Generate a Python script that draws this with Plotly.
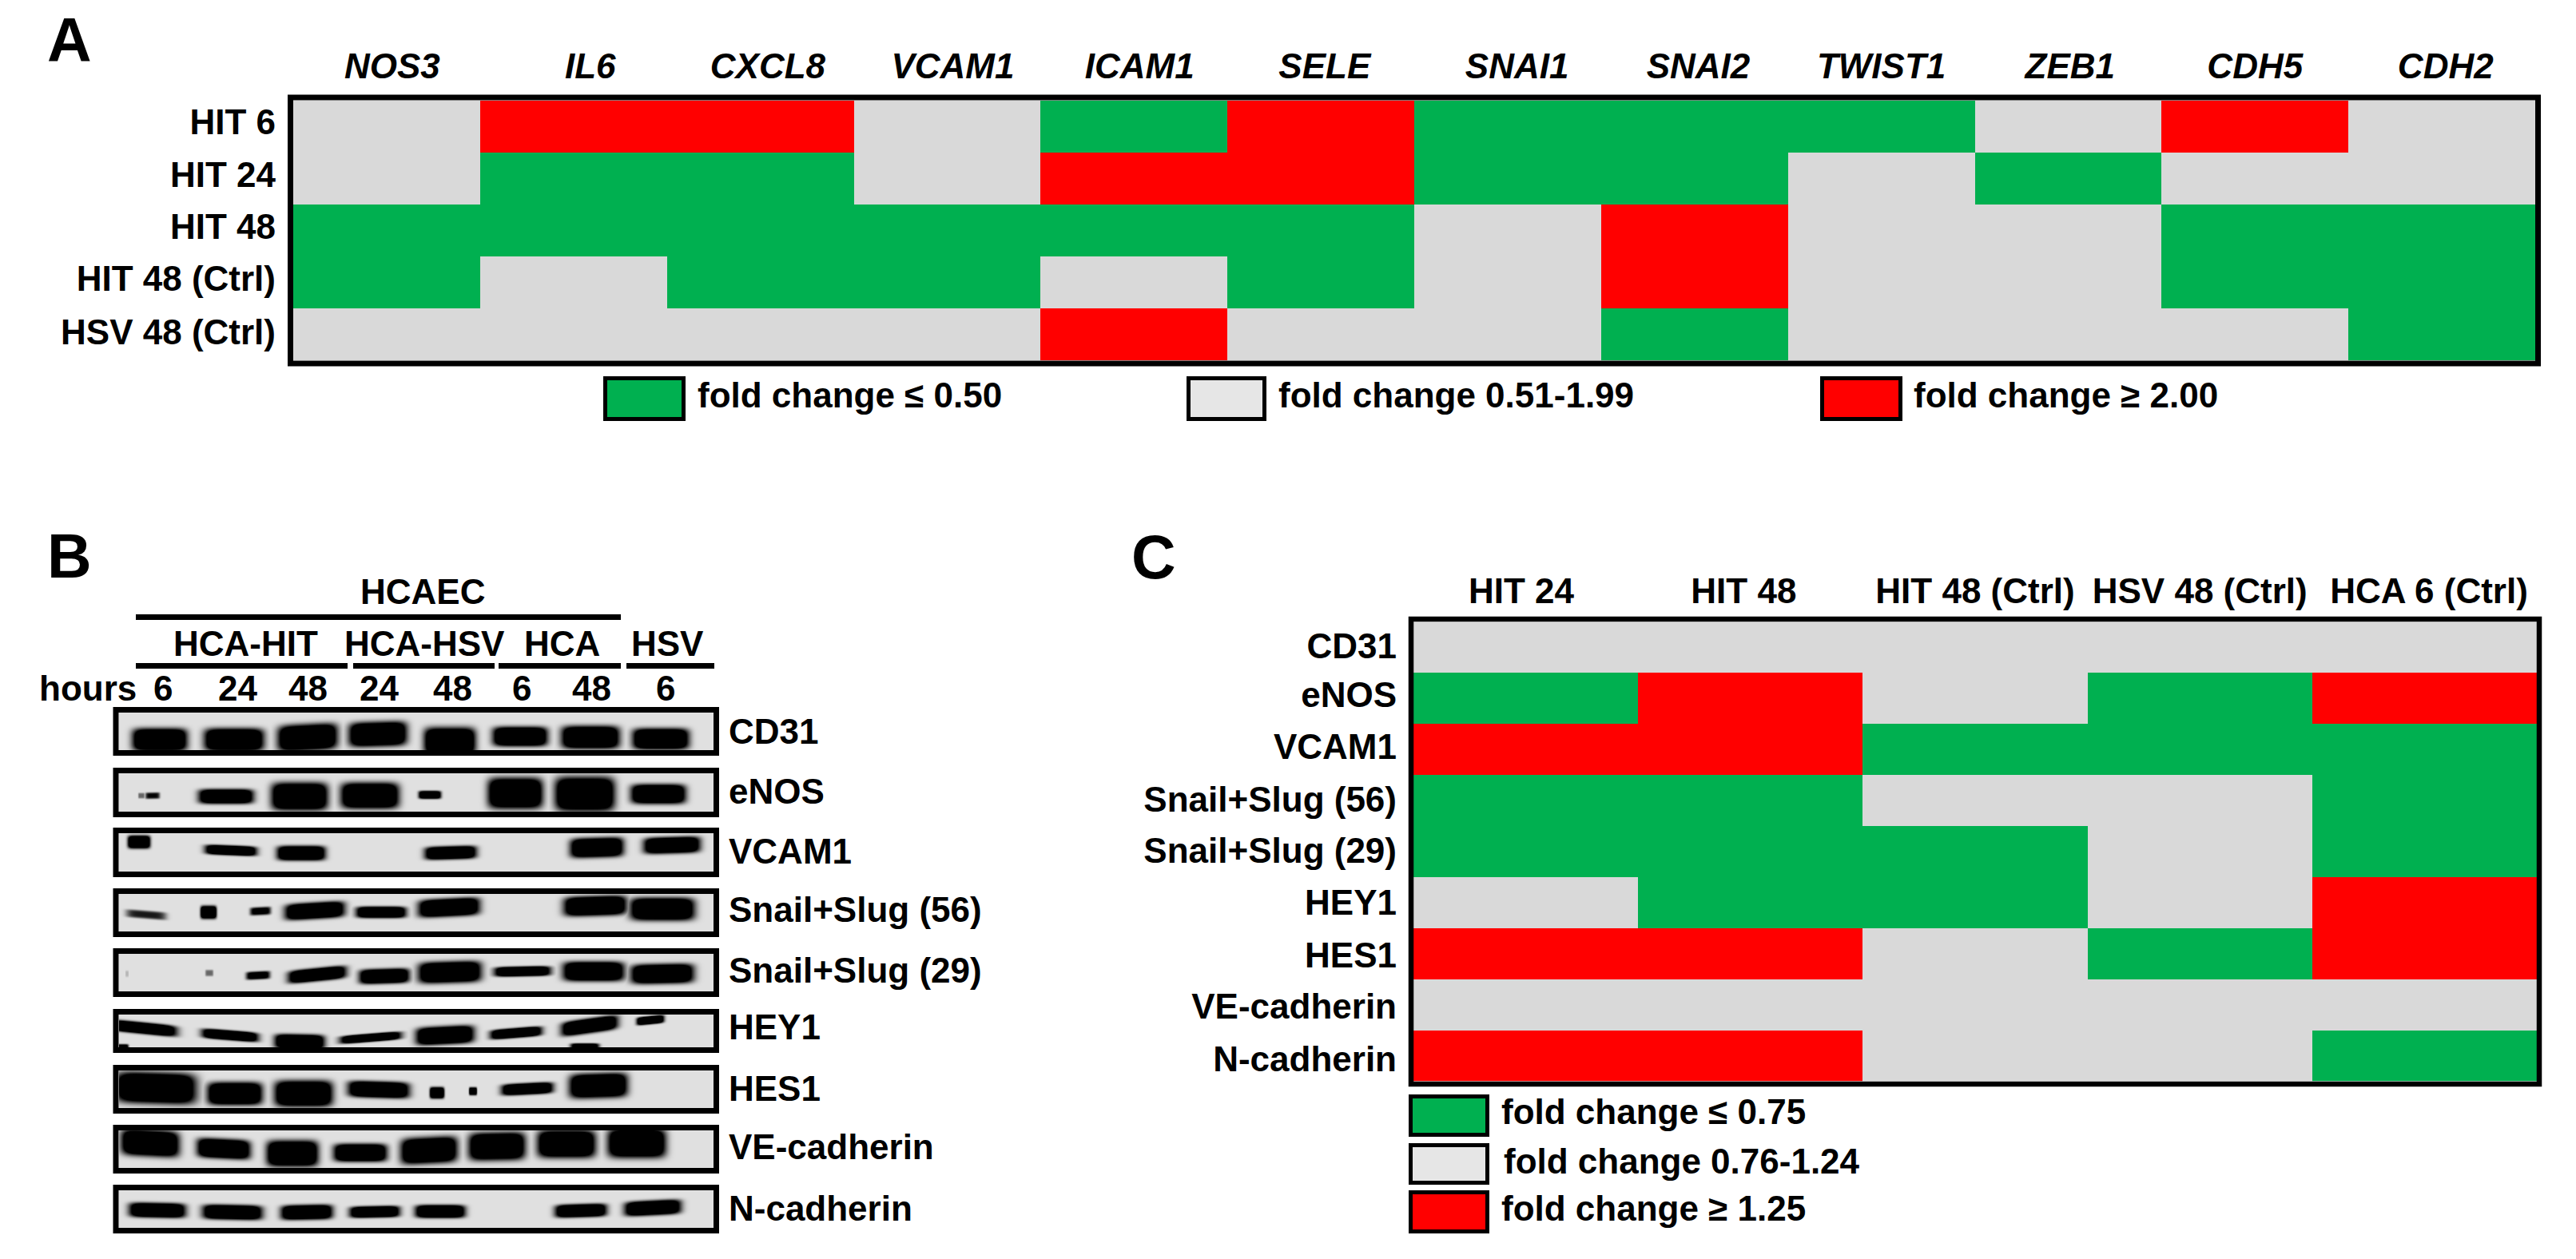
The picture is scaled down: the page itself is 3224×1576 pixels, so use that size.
import numpy as np
import plotly.graph_objects as go

W, H = 3224, 1576
FONT = "Liberation Sans"
GREEN, GREY, RED = "#00B050", "#D9D9D9", "#FF0000"
SWATCH_GREY = "#E6E6E6"
GEL_BG = "#E0E0E0"

# Panel A: -1 = down, 0 = no change, 1 = up
genes = ["NOS3", "IL6", "CXCL8", "VCAM1", "ICAM1", "SELE", "SNAI1", "SNAI2", "TWIST1", "ZEB1", "CDH5", "CDH2"]
rows_a = ["HIT 6", "HIT 24", "HIT 48", "HIT 48 (Ctrl)", "HSV 48 (Ctrl)"]
hit6 = [0, 1, 1, 0, -1, 1, -1, -1, -1, 0, 1, 0]
hit24 = [0, -1, -1, 0, 1, 1, -1, -1, 0, -1, 0, 0]
hit48 = [-1, -1, -1, -1, -1, -1, 0, 1, 0, 0, -1, -1]
hit48_ctrl = [-1, 0, -1, -1, 0, -1, 0, 1, 0, 0, -1, -1]
hsv48_ctrl = [0, 0, 0, 0, 1, 0, 0, -1, 0, 0, 0, -1]
legend_a = ["fold change ≤ 0.50", "fold change 0.51-1.99", "fold change ≥ 2.00"]

# Panel C
cols_c = ["HIT 24", "HIT 48", "HIT 48 (Ctrl)", "HSV 48 (Ctrl)", "HCA 6 (Ctrl)"]
rows_c = ["CD31", "eNOS", "VCAM1", "Snail+Slug (56)", "Snail+Slug (29)", "HEY1", "HES1", "VE-cadherin", "N-cadherin"]
cd31_c = [0, 0, 0, 0, 0]
enos_c = [-1, 1, 0, -1, 1]
vcam1_c = [1, 1, -1, -1, -1]
snail56_c = [-1, -1, 0, 0, -1]
snail29_c = [-1, -1, -1, 0, -1]
hey1_c = [0, -1, -1, 0, 1]
hes1_c = [1, 1, 0, -1, 1]
vecad_c = [0, 0, 0, 0, 0]
ncad_c = [1, 1, 0, 0, -1]
legend_c = ["fold change ≤ 0.75", "fold change 0.76-1.24", "fold change ≥ 1.25"]

# Panel B: bands (x, half width, y, half height, tilt, strength)
cd31_bands = [(51, 34, 34, 13, 0, 1), (144, 37, 34, 13, 0, 1), (236, 37, 31, 15, -.05, 1), (324, 36, 27, 14, -.03, 1),
              (414, 32, 36, 16, 0, 1), (502, 34, 30, 11, 0, 1), (590, 36, 31, 13, 0, 1), (678, 35, 33, 12, 0, 1)]
enos_bands = [(28, 4, 28, 2.5, 0, .3), (42, 9, 28, 3, -.02, .55), (134, 34, 29, 8, 0, 1), (226, 35, 29, 16, 0, 1), (314, 36, 28, 15, 0, 1),
              (389, 14, 27, 4, 0, .9), (496, 34, 25, 18, 0, 1), (583, 37, 26, 20, 0, 1), (675, 34, 26, 11, 0, 1)]
vcam1_bands = [(25, 14, 11, 7, 0, 1), (140, 32, 21.5, 5, .04, 1), (228, 30, 25, 8, 0, 1), (415, 32, 24.5, 7, -.03, 1),
               (598, 33, 18, 11, -.03, 1), (692, 35, 15, 9, -.03, 1)]
snail56_bands = [(34, 25, 26, 4, .08, .5), (112, 10, 23, 7, 0, 1), (177, 13, 21.5, 4, -.05, .65), (245, 37, 21, 9, -.06, 1),
                 (328, 31, 23, 6, 0, 1), (413, 38, 17, 10, -.05, 1), (596, 39, 15, 11, -.03, 1), (680, 40, 19, 13, 0, 1)]
snail29_bands = [(10, 2, 25, 3, 0, .1), (113, 5, 24, 3, 0, .3), (174, 15, 27, 4, -.05, .7), (248, 36, 26, 7, -.1, 1),
                 (332, 31, 28, 8, -.03, 1), (414, 39, 23, 12, -.03, 1), (505, 35, 22, 5, -.02, 1), (594, 38, 22, 11, 0, 1),
                 (680, 39, 25, 11, -.02, 1)]
hey1_bands = [(30, 42, 17, 6, .1, 1), (139, 35, 26, 5, .08, 1), (226, 31, 34, 8, .02, 1), (315, 38, 29, 4, -.08, 1),
              (408, 36, 26, 10, -.05, 1), (497, 32, 23, 5, -.08, 1), (589, 35, 14, 8, -.14, 1), (583, 18, 40, 3, 0, .8),
              (665, 17, 7, 4, -.1, 1), (4, 8, 41, 3, 0, .7)]
hes1_bands = [(46, 50, 22, 18, .03, 1), (145, 34, 29, 13, 0, 1), (231, 36, 29, 15, 0, 1), (325, 38, 24, 9, .03, 1),
              (398, 9, 28, 6, 0, 1), (443, 5, 26, 4, 0, .8), (511, 32, 23, 6, -.05, 1), (600, 36, 19, 14, -.03, 1)]
vecad_bands = [(39, 36, 16, 15, .05, 1), (131, 33, 23, 11, .05, 1), (217, 32, 29, 15, 0, 1), (302, 33, 28, 10, 0, 1),
               (388, 35, 25, 15, -.05, 1), (473, 35, 20, 16, -.02, 1), (560, 36, 17, 16, 0, 1), (648, 36, 16, 17, 0, 1)]
ncad_bands = [(48, 35, 25, 8, .02, 1), (142, 37, 27.5, 8, .02, 1), (235, 32, 27.5, 8, -.02, 1), (320, 31, 27, 6, -.02, 1),
              (402, 31, 26.5, 7, 0, 1), (578, 32, 25.5, 7, -.03, 1), (668, 35, 22, 8, -.05, 1)]
blots = [("CD31", cd31_bands), ("eNOS", enos_bands), ("VCAM1", vcam1_bands), ("Snail+Slug (56)", snail56_bands),
         ("Snail+Slug (29)", snail29_bands), ("HEY1", hey1_bands), ("HES1", hes1_bands),
         ("VE-cadherin", vecad_bands), ("N-cadherin", ncad_bands)]
hours = ["6", "24", "48", "24", "48", "6", "48", "6"]
groups = ["HCA-HIT", "HCA-HSV", "HCA", "HSV"]

# layout, in pixels of the page
blot_tops = [892, 968, 1043, 1119, 1194, 1270, 1340, 1415, 1490]
blot_bottoms = [939, 1016, 1091, 1166, 1241, 1311, 1387, 1462, 1537]
blot_label_y = [915, 990, 1065, 1138, 1214, 1285, 1362, 1435, 1512]
hour_x = [204, 297, 385, 474, 566, 653, 740, 833]
group_x = [307, 531, 703, 835]
group_lines = [(170, 435), (442, 619), (624, 777), (784, 894)]
gene_shift = [.03, .09, .04, .03, .03, .02, .05, .02, .0, .01, .0, .02]
row_a_shift = [-.09, -.07, -.07, -.07, -.05]
col_c_shift = [-.02, -.03, 0, 0, .02]
row_c_shift = [-.03, -.07, -.05, -.02, -.02, 0, .03, .03, .06]


def px(x):
    return x / W


def py(y):
    return 1 - y / H


fig = go.Figure()
shapes, notes, axes = [], [], {}
n_axes = 0
scale = [[0, GREEN], [.5, GREY], [1, RED]]


def add_axes(x0, x1, y0, y1):
    global n_axes
    n_axes += 1
    tag = "" if n_axes == 1 else str(n_axes)
    common = dict(showgrid=False, zeroline=False, showline=False, ticks="")
    axes["xaxis" + tag] = dict(domain=[px(x0), px(x1)], anchor="y" + tag, **common)
    axes["yaxis" + tag] = dict(domain=[py(y1), py(y0)], anchor="x" + tag, **common)
    return "x" + tag, "y" + tag, tag


def text(x, y, s, size=44, anchor="left"):
    notes.append(dict(x=px(x), y=py(y), xref="paper", yref="paper", text=s, showarrow=False, xanchor=anchor,
                      yanchor="middle", font=dict(family=FONT, size=size, color="black", weight=700)))


def box(x0, y0, x1, y1, lw, fill=None):
    shapes.append(dict(type="rect", xref="paper", yref="paper", x0=px(x0), x1=px(x1), y0=py(y0), y1=py(y1),
                       line=dict(color="black", width=lw), fillcolor=fill, layer="above"))


def bar(x0, x1, y0, y1):
    shapes.append(dict(type="rect", xref="paper", yref="paper", x0=px(x0), x1=px(x1), y0=py(y0), y1=py(y1),
                       line=dict(width=0), fillcolor="black", layer="above"))


def add_grid(z, cols, rows, dom, col_shift, row_shift, standoff_x, standoff_y, italic):
    x0, x1, y0, y1 = dom
    xa, ya, tag = add_axes(x0, x1, y0, y1)
    fig.add_trace(go.Heatmap(z=z, x=list(range(len(cols))), y=list(range(len(rows))), colorscale=scale, zmin=-1, zmax=1,
                             showscale=False, xaxis=xa, yaxis=ya, hoverinfo="skip"))
    tick = dict(family=FONT, size=44, color="black", weight=700)
    axes["xaxis" + tag].update(side="top", range=[-.5, len(cols) - .5], tickmode="array",
                               tickvals=[i + s for i, s in enumerate(col_shift)], ticktext=cols,
                               ticklabelstandoff=standoff_x,
                               tickfont=dict(style="italic", **tick) if italic else tick)
    axes["yaxis" + tag].update(range=[len(rows) - .5, -.5], tickmode="array",
                               tickvals=[i + s for i, s in enumerate(row_shift)], ticktext=rows,
                               ticklabelstandoff=standoff_y, tickfont=tick)


def gel_image(bands, width, height):
    xx, yy = np.meshgrid(np.arange(width) + .5, np.arange(height) + .5)
    z = np.zeros((height, width))
    for xc, hw, yc, hh, tilt, amp in bands:
        dx = (xx - xc) / hw
        dy = (yy - yc - tilt * (xx - xc)) / (hh + 1)
        blob = amp * 1.8 * np.exp(-np.abs(dx) ** 6 - np.abs(dy) ** 4)
        z = np.maximum(z, blob)
    return np.clip(z, 0, 1)


# Panel A
add_grid([hit6, hit24, hit48, hit48_ctrl, hsv48_ctrl], genes, rows_a, (367, 3173, 126, 451),
         gene_shift, row_a_shift, 18, 21, True)
box(363.5, 122, 3176.5, 455, 7)
for (x0, x1, tx), fill, s in zip([(755, 858, 871), (1485, 1585, 1598), (2278, 2381, 2393)], [GREEN, SWATCH_GREY, RED], legend_a):
    box(x0 + 2.5, 473.5, x1 - 2.5, 524.5, 5, fill)
    text(tx, 494, s)

# Panel B
gel_x0, gel_x1 = 149, 893
for (name, bands), top, bottom, ly in zip(blots, blot_tops, blot_bottoms, blot_label_y):
    xa, ya, tag = add_axes(gel_x0, gel_x1, top, bottom)
    fig.add_trace(go.Heatmap(z=gel_image(bands, gel_x1 - gel_x0, bottom - top), colorscale=[[0, GEL_BG], [1, "black"]],
                             zmin=0, zmax=1, showscale=False, xaxis=xa, yaxis=ya, hoverinfo="skip"))
    axes["xaxis" + tag].update(showticklabels=False, range=[-.5, gel_x1 - gel_x0 - .5])
    axes["yaxis" + tag].update(showticklabels=False, range=[bottom - top - .5, -.5])
    box(gel_x0 - 4, top - 3.5, gel_x1 + 3.5, bottom + 3.5, 7)
    text(910, ly, name)

text(529, 741, "HCAEC", anchor="center")
bar(170, 777, 769, 776)
for name, x, (x0, x1) in zip(groups, group_x, group_lines):
    text(x, 805, name, anchor="center")
    bar(x0, x1, 830, 837)
text(47, 862, "hours")
for h, x in zip(hours, hour_x):
    text(x, 862, h, anchor="center")

# Panel C
add_grid([cd31_c, enos_c, vcam1_c, snail56_c, snail29_c, hey1_c, hes1_c, vecad_c, ncad_c], cols_c, rows_c,
         (1769, 3175, 778.5, 1353.5), col_c_shift, row_c_shift, 14, 20, False)
box(1766, 775, 3178, 1357, 6.5)
for (y0, y1, ty), fill, s, tx in zip([(1370, 1423, 1391), (1431, 1483, 1453), (1490, 1544, 1512)], [GREEN, SWATCH_GREY, RED],
                                     legend_c, [1877, 1880, 1877]):
    box(1765.5, y0 + 2.5, 1861.5, y1 - 2.5, 5, fill)
    text(tx, ty, s)

text(87, 50, "A", 77, "center")
text(87, 696, "B", 77, "center")
text(1444, 697, "C", 77, "center")

fig.update_layout(width=W, height=H, margin=dict(l=0, r=0, t=0, b=0), paper_bgcolor="white", plot_bgcolor="white",
                  shapes=shapes, annotations=notes, showlegend=False, **axes)

fig.write_html("out.html", config=dict(displayModeBar=False), post_script="document.body.style.margin='0';")
